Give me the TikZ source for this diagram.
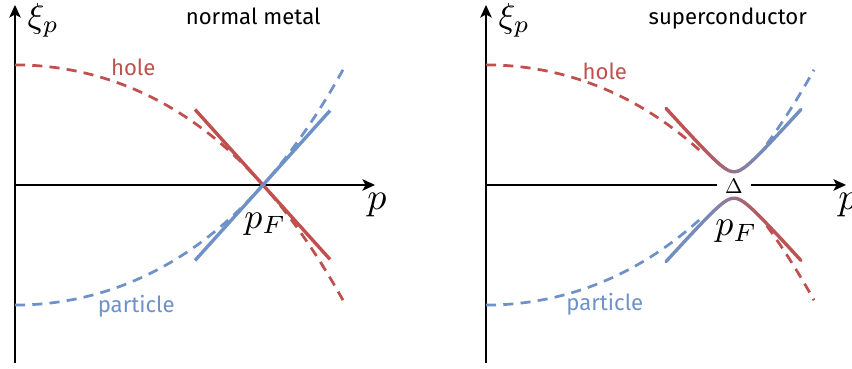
\documentclass[tikz,border=0pt]{standalone}
\usepackage[no-math]{fontspec}
\setmainfont{Fira Sans}
\usepackage{amsmath}
\usepackage{xcolor}
\usetikzlibrary{arrows.meta,calc,positioning}
\definecolor{holered}{RGB}{192,80,77}
\definecolor{partblue}{RGB}{110,146,200}
\newcommand{\pF}{4.1333}

\tikzset{
  axis/.style={line width=0.6pt, -{Stealth[length=6pt,width=5.5pt,inset=1.5pt]}},
  band/.style={line width=1.3pt, dash pattern=on 4.8pt off 3.4pt},
  lin/.style={line width=1.6pt},
  gapline/.style={line width=1.6pt, line cap=round},
  lbl/.style={font=\fontsize{10.5}{12}\selectfont, inner sep=0pt, anchor=base},
  mlbl/.style={inner sep=0pt, anchor=base}
}

\begin{document}
\begin{tikzpicture}[>=Latex, declare function={hole(\x)=0.0984*(17.084-\x*\x)+0.001093*(291.87-\x*\x*\x*\x);}]
  \useasboundingbox (-0.25,-3.067) rectangle (13.95,3.083);

  % normal metal
  \begin{scope}
    \coordinate (nO) at (0,0);
    \coordinate (nBot) at (0,-2.97);
    \coordinate (nTop) at (0,3.0);
    \coordinate (nEnd) at (6.0,0);
    \coordinate (nF) at (\pF,0);
    \draw[axis] (nBot) -- (nTop);
    \draw[axis] (nO) -- (nEnd);
    \draw[band, holered] plot[domain=0:5.467, samples=60, smooth] (\x,{hole(\x)});
    \draw[band, partblue] plot[domain=0:5.467, samples=60, smooth] (\x,{-hole(\x)});
    \coordinate (nH1) at ($(nF)+(-1.133,1.258)$);
    \coordinate (nH2) at ($(nF)+(1.117,-1.24)$);
    \coordinate (nP1) at ($(nF)+(-1.133,-1.258)$);
    \coordinate (nP2) at ($(nF)+(1.117,1.24)$);
    \draw[lin, holered] (nH1) -- (nH2);
    \draw[lin, partblue] (nP1) -- (nP2);
    \node[mlbl, anchor=base west, scale=1.65] (nXi) at (0.2,2.62) {$\xi_p$};
    \node[mlbl, anchor=base west, scale=1.8] (nP) at (5.86,-0.41) {$p$};
    \node[mlbl, scale=1.7] (nPF) at (4.17,-0.72) {$p_F$};
    \node[lbl] (nTitle) at (3.97,2.67) {normal metal};
    \node[lbl, text=holered] (nHole) at (1.97,1.82) {hole};
    \node[lbl, text=partblue] (nPart) at (2.02,-2.12) {particle};
  \end{scope}

  % superconductor
  \begin{scope}[xshift=7.85cm]
    \coordinate (sO) at (0,0);
    \coordinate (sBot) at (0,-2.97);
    \coordinate (sTop) at (0,3.0);
    \coordinate (sEnd) at (6.0,0);
    \coordinate (sF) at (\pF,0);
    \draw[axis] (sBot) -- (sTop);
    \draw[axis] (sO) -- (sEnd);
    \draw[band, holered] plot[domain=0:3.58, samples=40, smooth] (\x,{hole(\x)});
    \draw[band, holered] plot[domain=4.68:5.467, samples=15, smooth] (\x,{hole(\x)});
    \draw[band, partblue] plot[domain=0:3.58, samples=40, smooth] (\x,{-hole(\x)});
    \draw[band, partblue] plot[domain=4.68:5.467, samples=15, smooth] (\x,{-hole(\x)});
    \node[fill=white, inner xsep=4pt, inner ysep=1.5pt] (sGap) at ($(sF)+(0,-0.02)$) {$\Delta$};
    \foreach \i in {0,...,44} {
      \pgfmathsetmacro{\ua}{3.0+\i*0.05}
      \pgfmathsetmacro{\ub}{\ua+0.05}
      \pgfmathsetmacro{\xm}{1.11*(\ua+0.025-\pF)}
      \pgfmathsetmacro{\mix}{50+50*\xm/sqrt(\xm*\xm+0.25)}
      \draw[gapline, color=partblue!\mix!holered] plot[domain=\ua:\ub, samples=3] (\x,{sqrt((1.11*(\x-\pF))^2+0.0484)});
      \draw[gapline, color=holered!\mix!partblue] plot[domain=\ua:\ub, samples=3] (\x,{-sqrt((1.11*(\x-\pF))^2+0.0484)});
    }
    \node[mlbl, anchor=base west, scale=1.65] (sXi) at (0.2,2.62) {$\xi_p$};
    \node[mlbl, anchor=base west, scale=1.8] (sP) at (5.86,-0.41) {$p$};
    \node[mlbl, scale=1.7] (sPF) at (4.17,-0.85) {$p_F$};
    \node[lbl] (sTitle) at (4.03,2.67) {superconductor};
    \node[lbl, text=holered] (sHole) at (1.98,1.75) {hole};
    \node[lbl, text=partblue] (sPart) at (1.98,-2.1) {particle};
  \end{scope}
\end{tikzpicture}
\end{document}
